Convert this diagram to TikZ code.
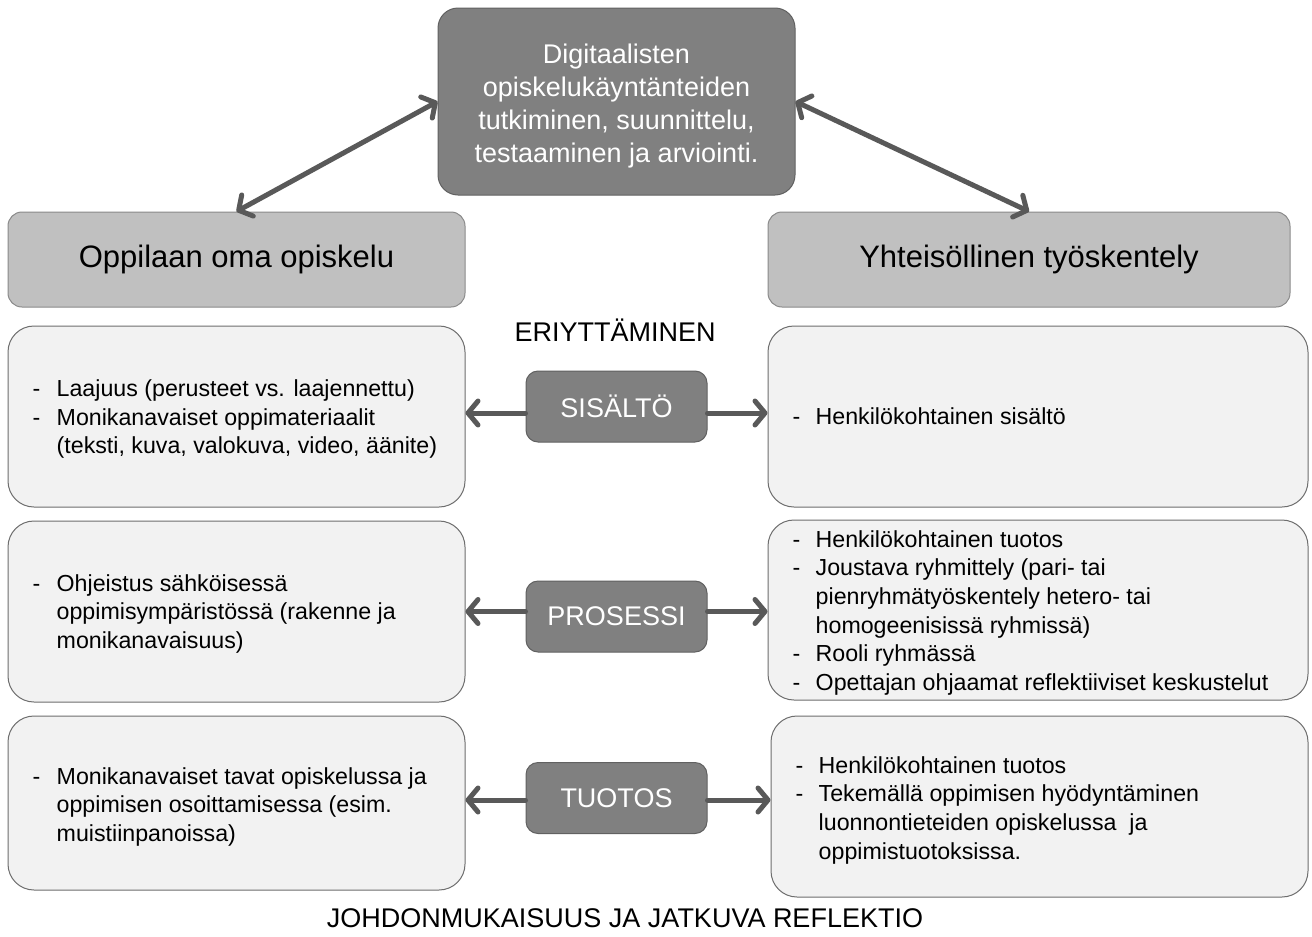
\documentclass[tikz,border=0pt]{standalone}
\usepackage{fontspec}
\setmainfont{Liberation Sans}
\usetikzlibrary{arrows.meta}
\definecolor{darkbox}{HTML}{808080}
\definecolor{darkedge}{HTML}{616161}
\definecolor{headbox}{HTML}{C0C0C0}
\definecolor{headedge}{HTML}{8A8A8A}
\definecolor{lightbox}{HTML}{F2F2F2}
\definecolor{lightedge}{HTML}{6E6E6E}
\definecolor{arrowgray}{HTML}{595959}
\newcommand{\lst}[1]{\begin{tabular}{@{}p{24pt}@{}l@{}}#1\end{tabular}}
\newcommand{\lstr}[1]{\begin{tabular}{@{}p{23pt}@{}l@{}}#1\end{tabular}}
\begin{document}
\begin{tikzpicture}[x=1pt,y=-1pt,
  topbox/.style={draw=darkedge, fill=darkbox, line width=1pt, rounded corners=20pt, inner sep=0pt},
  toptext/.style={text=white, align=center, inner sep=0pt, font=\fontsize{27}{33.3}\selectfont},
  headbox/.style={draw=headedge, fill=headbox, line width=1pt, rounded corners=14pt, inner sep=0pt, font=\fontsize{31}{36}\selectfont},
  contbox/.style={draw=lightedge, fill=lightbox, line width=1pt, rounded corners=26pt, inner sep=0pt},
  midbox/.style={draw=darkedge, fill=darkbox, line width=1pt, rounded corners=12pt, text=white, inner sep=0pt, minimum width=181pt, minimum height=71pt, font=\fontsize{27}{32}\selectfont},
  conttext/.style={anchor=west, inner sep=0pt, align=left, font=\fontsize{23.2}{28.6}\selectfont},
  bigtitle/.style={inner sep=0pt, font=\fontsize{27}{32}\selectfont},
  arr/.style={draw=arrowgray, line width=5pt, line cap=round,
    {Straight Barb[length=10pt,width=24pt,line cap=round,line join=round]}-{Straight Barb[length=10pt,width=24pt,line cap=round,line join=round]}},
  arrone/.style={draw=arrowgray, line width=5pt, line cap=round,
    -{Straight Barb[length=10pt,width=24pt,line cap=round,line join=round]}}
]
\useasboundingbox[fill=white] (0,0) rectangle (1312,937);

% top box
\node[topbox, minimum width=357pt, minimum height=187pt] (top) at (616.5,101.5) {};
\node[toptext] (topt) at ([yshift=-4.5pt]top.center)
  {Digitaalisten\\opiskelukäyntänteiden\\tutkiminen, suunnittelu,\\testaaminen ja arviointi.};

% headers
\node[headbox, minimum width=457pt, minimum height=95pt] (lh) at (236.5,259.5) {\raisebox{-2pt}{Oppilaan oma opiskelu}};
\node[headbox, minimum width=522pt, minimum height=95pt] (rh) at (1029,259.5) {\raisebox{-2pt}{Yhteisöllinen työskentely}};

\node[bigtitle] (eri) at (615,330) {ERIYTTÄMINEN};

% content boxes
\node[contbox, minimum width=457pt, minimum height=181pt] (l1) at (236.5,416.5) {};
\node[contbox, minimum width=540pt, minimum height=181pt] (r1) at (1038,416.5) {};
\node[contbox, minimum width=457pt, minimum height=181pt] (l2) at (236.5,611.5) {};
\node[contbox, minimum width=540pt, minimum height=180pt] (r2) at (1038,610) {};
\node[contbox, minimum width=457pt, minimum height=174pt] (l3) at (236.5,803) {};
\node[contbox, minimum width=537pt, minimum height=181pt] (r3) at (1039.5,806.5) {};

% content texts
\node[conttext] (l1t) at ([xshift=25pt,yshift=-3pt]l1.west) {\lst{-& Laajuus (perusteet vs. laajennettu)\\ -& Monikanavaiset oppimateriaalit\\ & (teksti, kuva, valokuva, video, äänite)}};
\node[conttext] (r1t) at ([xshift=25pt,yshift=-2.5pt]r1.west) {\lstr{-& Henkilökohtainen sisältö}};
\node[conttext] (l2t) at ([xshift=25pt,yshift=-2.5pt]l2.west) {\lst{-& Ohjeistus sähköisessä\\ & oppimisympäristössä (rakenne ja\\ & monikanavaisuus)}};
\node[conttext] (r2t) at ([xshift=25pt,yshift=-3pt]r2.west) {\lstr{-& Henkilökohtainen tuotos\\ -& Joustava ryhmittely (pari- tai\\ & pienryhmätyöskentely hetero- tai\\ & homogeenisissä ryhmissä)\\ -& Rooli ryhmässä\\ -& Opettajan ohjaamat reflektiiviset keskustelut}};
\node[conttext] (l3t) at ([xshift=25pt,yshift=-4pt]l3.west) {\lst{-& Monikanavaiset tavat opiskelussa ja\\ & oppimisen osoittamisessa (esim.\\ & muistiinpanoissa)}};
\node[conttext] (r3t) at ([xshift=25pt,yshift=-4pt]r3.west) {\lstr{-& Henkilökohtainen tuotos\\ -& Tekemällä oppimisen hyödyntäminen\\ & luonnontieteiden opiskelussa\ \ ja\\ & oppimistuotoksissa.}};

% middle boxes
\node[midbox] (sis) at (616.5,406.5) {SISÄLTÖ};
\node[midbox] (pro) at (616.5,616.5) {PROSESSI};
\node[midbox] (tuo) at (616.5,798) {TUOTOS};

\node[bigtitle] (joh) at (625,918) {JOHDONMUKAISUUS JA JATKUVA REFLEKTIO};

% arrows
\draw[arr] (top.west) -- (lh.north);
\draw[arr] (top.east) -- (rh.north);
\draw[arrone] ([yshift=-6.5pt]sis.west) -- ([yshift=-6.5pt]sis.west -| l1.east);
\draw[arrone] ([yshift=-6.5pt]sis.east) -- ([yshift=-6.5pt]sis.east -| r1.west);
\draw[arrone] ([yshift=5pt]pro.west) -- ([yshift=5pt]pro.west -| l2.east);
\draw[arrone] ([yshift=5pt]pro.east) -- ([yshift=5pt]pro.east -| r2.west);
\draw[arrone] ([yshift=-2pt]tuo.west) -- ([yshift=-2pt]tuo.west -| l3.east);
\draw[arrone] ([yshift=-2pt]tuo.east) -- ([yshift=-2pt]tuo.east -| r3.west);
\end{tikzpicture}
\end{document}
